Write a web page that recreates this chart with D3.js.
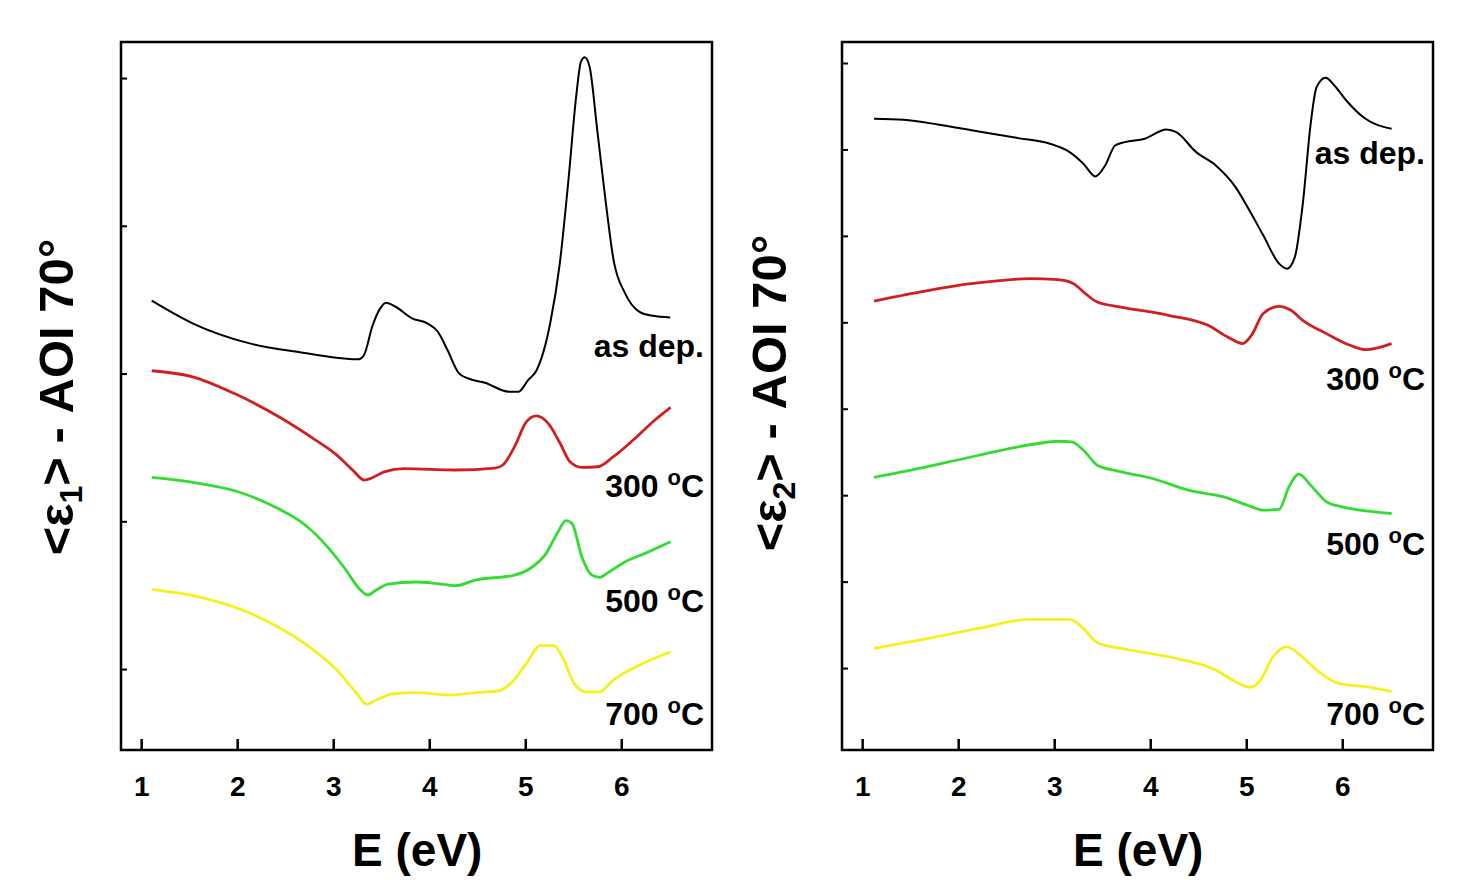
<!DOCTYPE html>
<html><head><meta charset="utf-8">
<script src="https://cdn.jsdelivr.net/npm/d3@7"></script>
<style>body{margin:0;background:#fff}</style>
</head><body>
<svg id="c" width="1474" height="880"></svg>
<script>
// ---------- data (energy in eV, values in arbitrary units: 1 unit = 1 tick step) ----------
const xTicks = [1, 2, 3, 4, 5, 6];
const seriesNames = ["as dep.", "300", "500", "700"];

// <ε1> panel
const e1AsDepE = [1.11,1.535,2.13,2.625,3.26,3.32,3.41,3.49,3.55,3.65,3.82,3.98,4.09,4.19,4.31,4.40,4.58,4.83,4.93,5.03,5.12,5.26,5.36,5.45,5.53,5.58,5.62,5.67,5.75,5.84,5.92,6.04,6.19,6.33,6.51];
const e1AsDepV = [2.493,2.340,2.204,2.147,2.096,2.125,2.325,2.441,2.479,2.452,2.374,2.340,2.283,2.159,2.001,1.968,1.938,1.877,1.877,1.956,2.024,2.340,2.746,3.310,3.873,4.110,4.140,4.076,3.648,3.152,2.768,2.543,2.418,2.391,2.380];
const e1T300E = [1.11,1.535,1.967,2.461,2.790,3.038,3.202,3.325,3.407,3.531,3.736,4.272,4.684,4.766,4.889,5.013,5.116,5.239,5.363,5.466,5.589,5.753,5.918,6.124,6.330,6.514];
const e1T300V = [2.019,1.978,1.866,1.697,1.561,1.448,1.347,1.279,1.295,1.335,1.356,1.347,1.360,1.381,1.505,1.674,1.713,1.663,1.528,1.403,1.365,1.369,1.437,1.550,1.674,1.771];
const e1T500E = [1.11,1.597,2.008,2.420,2.708,2.954,3.120,3.284,3.358,3.449,3.572,3.860,4.065,4.272,4.478,4.889,5.054,5.218,5.342,5.424,5.486,5.589,5.692,5.774,5.877,6.042,6.248,6.514];
const e1T500V = [1.297,1.257,1.200,1.088,0.975,0.817,0.682,0.535,0.501,0.535,0.575,0.589,0.580,0.564,0.602,0.636,0.682,0.783,0.929,1.004,0.986,0.760,0.636,0.621,0.659,0.726,0.783,0.862];
const e1T700E = [1.11,1.597,2.008,2.420,2.749,3.038,3.244,3.346,3.449,3.614,3.860,4.233,4.478,4.725,4.849,5.013,5.157,5.301,5.385,5.508,5.631,5.774,5.918,6.124,6.514];
const e1T700V = [0.539,0.489,0.411,0.286,0.151,-0.007,-0.164,-0.237,-0.210,-0.169,-0.160,-0.176,-0.160,-0.147,-0.097,0.039,0.158,0.158,0.083,-0.097,-0.154,-0.154,-0.074,0.005,0.117];

// <ε2> panel
const e2AsDepE = [1.124,1.432,1.803,2.214,2.625,2.954,3.161,3.304,3.428,3.531,3.634,3.736,3.943,4.168,4.272,4.478,4.683,4.889,5.013,5.177,5.342,5.424,5.506,5.589,5.671,5.732,5.827,5.918,6.042,6.227,6.514];
const e2AsDepV = [6.355,6.343,6.286,6.208,6.131,6.066,5.969,5.835,5.688,5.815,6.046,6.085,6.124,6.231,6.200,5.969,5.815,5.564,5.333,5.006,4.679,4.621,4.755,5.372,6.297,6.720,6.829,6.740,6.566,6.366,6.239];
const e2T300E = [1.124,1.597,2.132,2.749,3.038,3.202,3.325,3.449,3.696,4.189,4.602,4.807,4.963,5.054,5.177,5.342,5.466,5.589,5.836,6.082,6.247,6.514];
const e2T300V = [4.246,4.350,4.447,4.505,4.494,4.447,4.332,4.235,4.177,4.081,3.965,3.830,3.754,3.850,4.101,4.185,4.139,4.023,3.869,3.734,3.684,3.754];
const e2T500E = [1.124,1.597,2.214,2.831,3.038,3.181,3.304,3.449,3.654,4.025,4.396,4.766,5.013,5.177,5.342,5.445,5.548,5.671,5.836,6.000,6.247,6.514];
const e2T500V = [2.205,2.309,2.462,2.598,2.624,2.616,2.520,2.347,2.281,2.193,2.058,1.980,1.884,1.827,1.835,2.096,2.243,2.116,1.923,1.865,1.818,1.788];
const e2T700E = [1.124,1.597,2.214,2.749,3.161,3.304,3.449,3.696,4.189,4.683,4.889,5.033,5.136,5.280,5.424,5.548,5.753,5.959,6.247,6.514];
const e2T700V = [0.228,0.324,0.459,0.563,0.563,0.459,0.292,0.228,0.131,-0.023,-0.158,-0.223,-0.158,0.131,0.246,0.162,-0.043,-0.177,-0.216,-0.274];

const e1Ticks = [0, 1, 2, 3, 4];
const e2Ticks = [0, 1, 2, 3, 4, 5, 6, 7];

// ---------- styling / layout ----------
const colors = ["#000000", "#d11f1f", "#33db33", "#f5f01e"];
const widths = [2, 2.8, 2.8, 2.8];
const FONT = "'Liberation Sans', Arial, sans-serif";

const svg = d3.select("#c");

function zip(E, V) { return E.map((e, i) => ({e: e, v: V[i]})); }

function panel(cfg) {
  const x = d3.scaleLinear().domain([0.79, 6.945]).range([cfg.x0, cfg.x1]);
  const y = d3.scaleLinear().domain(cfg.yDomain).range([750, 42]);
  const g = svg.append("g");

  // x axis ticks (inward) + labels
  const ax = g.append("g").attr("transform", "translate(0,750)")
    .call(d3.axisBottom(x).tickValues(xTicks).tickSizeInner(-11).tickSizeOuter(0).tickPadding(26).tickFormat(d3.format("d")));
  ax.select(".domain").remove();
  ax.selectAll("line").attr("stroke", "#000").attr("stroke-width", 2.5);
  ax.selectAll("text").attr("font-family", FONT).attr("font-weight", "bold").attr("font-size", 28).attr("fill", "#000");

  // y axis small inward ticks, no labels
  const ay = g.append("g").attr("transform", `translate(${cfg.x0},0)`)
    .call(d3.axisLeft(y).tickValues(cfg.yTicks).tickSizeInner(-6).tickSizeOuter(0).tickFormat(""));
  ay.select(".domain").remove();
  ay.selectAll("line").attr("stroke", "#000").attr("stroke-width", 2);

  // frame
  g.append("rect").attr("x", cfg.x0).attr("y", 42).attr("width", cfg.x1 - cfg.x0).attr("height", 708)
    .attr("fill", "none").attr("stroke", "#000").attr("stroke-width", 2.5);

  // curves
  const line = d3.line().x(d => x(d.e)).y(d => y(d.v)).curve(d3.curveMonotoneX);
  cfg.series.forEach((s, i) => {
    g.append("path").datum(s).attr("d", line).attr("fill", "none")
      .attr("stroke", colors[i]).attr("stroke-width", widths[i]).attr("stroke-linejoin", "round");
  });

  // series labels
  cfg.labelY.forEach((yy, i) => {
    const t = g.append("text").attr("x", cfg.x1 - 8).attr("y", yy).attr("text-anchor", "end")
      .attr("font-family", FONT).attr("font-weight", "bold").attr("font-size", 32).attr("fill", "#000");
    if (i === 0) {
      t.text(seriesNames[0]);
    } else {
      t.append("tspan").text(seriesNames[i] + " ");
      t.append("tspan").attr("font-size", 22).attr("dy", -12).text("o");
      t.append("tspan").attr("dy", 12).text("C");
    }
  });

  // x title
  g.append("text").attr("x", x(3.875)).attr("y", 866).attr("text-anchor", "middle")
    .attr("font-family", FONT).attr("font-weight", "bold").attr("font-size", 46).attr("fill", "#000")
    .text("E (eV)");

  // y title
  const yt = g.append("text").attr("transform", `translate(${cfg.titleX},${cfg.titleY}) rotate(-90)`)
    .attr("text-anchor", "middle").attr("font-family", FONT).attr("font-weight", "bold")
    .attr("font-size", 49).attr("fill", "#000");
  yt.append("tspan").text("<ε");
  yt.append("tspan").attr("font-size", 32).attr("dy", 9).text(cfg.sub);
  yt.append("tspan").attr("dy", -9).text("> - AOI 70°");
}

panel({
  x0: 121, x1: 712,
  yDomain: [-0.548, 4.244], yTicks: e1Ticks,
  series: [zip(e1AsDepE, e1AsDepV), zip(e1T300E, e1T300V), zip(e1T500E, e1T500V), zip(e1T700E, e1T700V)],
  labelY: [357, 497, 612, 725],
  titleX: 73, titleY: 397, sub: "1"
});

panel({
  x0: 842, x1: 1433,
  yDomain: [-0.948, 7.243], yTicks: e2Ticks,
  series: [zip(e2AsDepE, e2AsDepV), zip(e2T300E, e2T300V), zip(e2T500E, e2T500V), zip(e2T700E, e2T700V)],
  labelY: [164, 390, 555, 725],
  titleX: 786, titleY: 393, sub: "2"
});
</script>
</body></html>
